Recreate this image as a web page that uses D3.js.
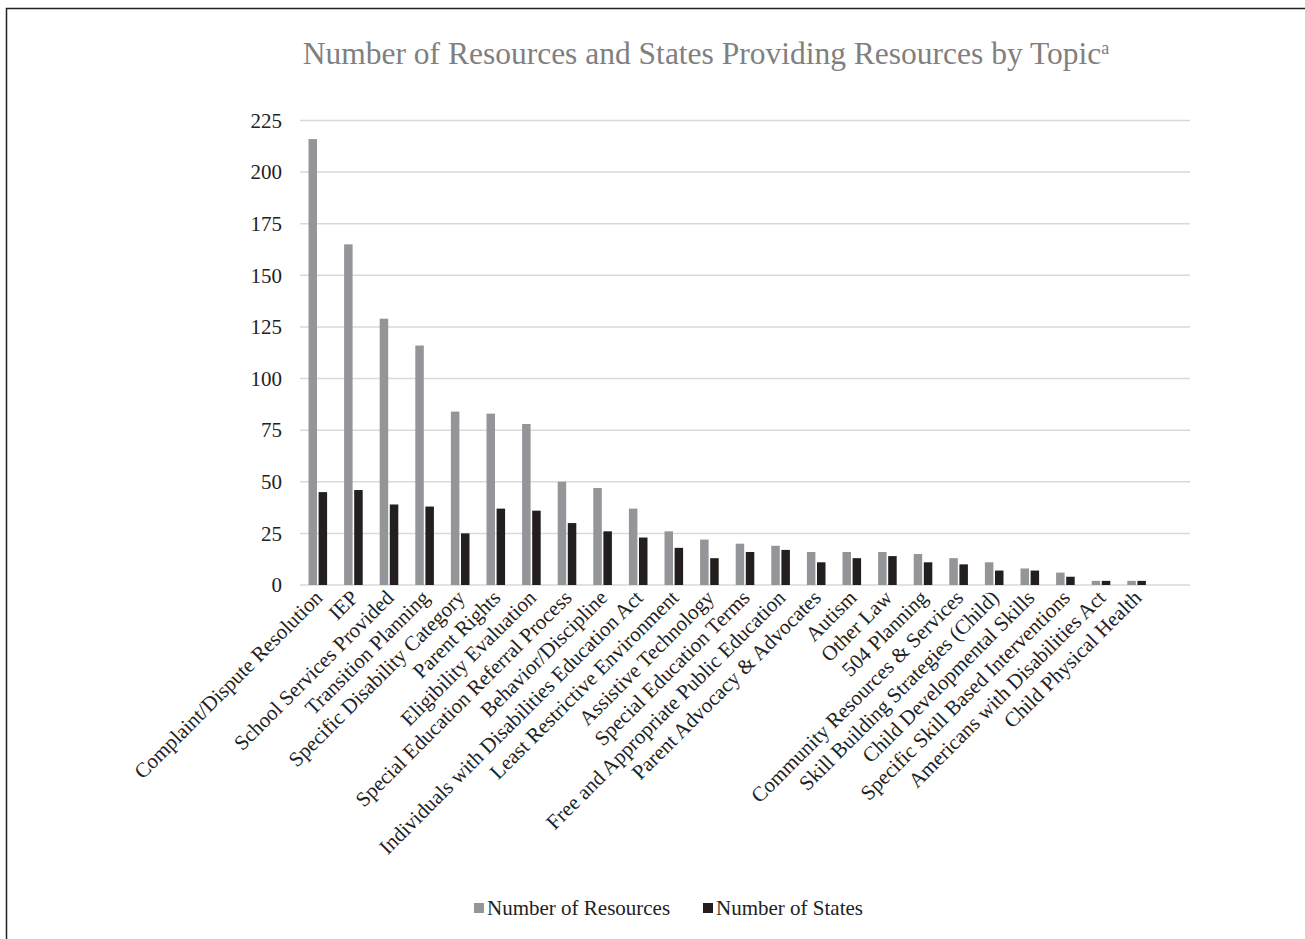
<!DOCTYPE html>
<html>
<head>
<meta charset="utf-8">
<script src="https://cdn.jsdelivr.net/npm/d3@7"></script>
<style>
  html, body { margin: 0; padding: 0; background: #fff; }
  svg { display: block; }
  text { font-family: "Liberation Serif", "Times New Roman", serif; }
</style>
</head>
<body>
<svg id="chart" width="1305" height="939"></svg>
<script>
const categories = [
  "Complaint/Dispute Resolution", "IEP", "School Services Provided", "Transition Planning",
  "Specific Disability Category", "Parent Rights", "Eligibility Evaluation",
  "Special Education Referral Process", "Behavior/Discipline",
  "Individuals with Disabilities Education Act", "Least Restrictive Environment",
  "Assistive Technology", "Special Education Terms", "Free and Appropriate Public Education",
  "Parent Advocacy & Advocates", "Autism", "Other Law", "504 Planning",
  "Community Resources & Services", "Skill Building Strategies (Child)",
  "Child Developmental Skills", "Specific Skill Based Interventions",
  "Americans with Disabilities Act", "Child Physical Health", ""
];
const resources = [216, 165, 129, 116, 84, 83, 78, 50, 47, 37, 26, 22, 20, 19, 16, 16, 16, 15, 13, 11, 8, 6, 2, 2, null];
const states    = [45, 46, 39, 38, 25, 37, 36, 30, 26, 23, 18, 13, 16, 17, 11, 13, 14, 11, 10, 7, 7, 4, 2, 2, null];
const yTicks = [0, 25, 50, 75, 100, 125, 150, 175, 200, 225];
const seriesNames = ["Number of Resources", "Number of States"];
const seriesColors = ["#939598", "#231f20"];

const svg = d3.select("#chart");

// outer frame (only top/left visible in reference)
svg.append("rect").attr("x", 6.5).attr("y", 8.5).attr("width", 1400).attr("height", 1000)
  .attr("fill", "none").attr("stroke", "#222").attr("stroke-width", 1.5);

const x = d3.scaleBand().domain(d3.range(categories.length)).range([300, 1190]).paddingInner(0).paddingOuter(0);
const y = d3.scaleLinear().domain([0, 225]).range([585, 120.5]);

// gridlines
svg.append("g").selectAll("line").data(yTicks).join("line")
  .attr("x1", 300).attr("x2", 1190)
  .attr("y1", d => y(d)).attr("y2", d => y(d))
  .attr("stroke", "#d9d9d9").attr("stroke-width", 1.5);

// y axis labels
const yAxis = d3.axisLeft(y).tickValues(yTicks).tickSize(0).tickPadding(0);
const gy = svg.append("g").attr("transform", "translate(282,0)").call(yAxis);
gy.select(".domain").remove();
gy.selectAll("text").attr("font-size", 21).attr("fill", "#222")
  .attr("font-family", "'Liberation Serif', serif");

// bars
const bw = 8.5;
const g = svg.append("g");
g.selectAll("rect.res").data(resources.map((v, i) => ({v, i})).filter(d => d.v != null)).join("rect")
  .attr("x", d => x(d.i) + x.bandwidth() / 2 - bw - 0.8)
  .attr("width", bw)
  .attr("y", d => y(d.v)).attr("height", d => y(0) - y(d.v))
  .attr("fill", seriesColors[0]);
g.selectAll("rect.st").data(states.map((v, i) => ({v, i})).filter(d => d.v != null)).join("rect")
  .attr("x", d => x(d.i) + x.bandwidth() / 2 + 0.8)
  .attr("width", bw)
  .attr("y", d => y(d.v)).attr("height", d => y(0) - y(d.v))
  .attr("fill", seriesColors[1]);

// x labels
const xl = svg.append("g");
xl.selectAll("text").data(categories.map((c, i) => ({c, i}))).join("text")
  .attr("transform", d => `translate(${x(d.i) + x.bandwidth() / 2 + 6},${599}) rotate(-45)`)
  .attr("text-anchor", "end")
  .attr("font-size", 21)
  .attr("fill", "#222")
  .text(d => d.c);

// title
const title = svg.append("text").attr("x", 706).attr("y", 64).attr("text-anchor", "middle")
  .attr("font-size", 31.5).attr("fill", "#808080");
title.append("tspan").text("Number of Resources and States Providing Resources by Topic");
title.append("tspan").attr("font-size", 18).attr("dy", -10).text("a");

// legend
const legendX = [474, 703];
const leg = svg.append("g");
seriesNames.forEach((n, i) => {
  leg.append("rect").attr("x", legendX[i]).attr("y", 903).attr("width", 10).attr("height", 10)
    .attr("fill", seriesColors[i]);
  leg.append("text").attr("x", legendX[i] + 13).attr("y", 915).attr("font-size", 21)
    .attr("fill", "#222").text(n);
});
</script>
</body>
</html>
